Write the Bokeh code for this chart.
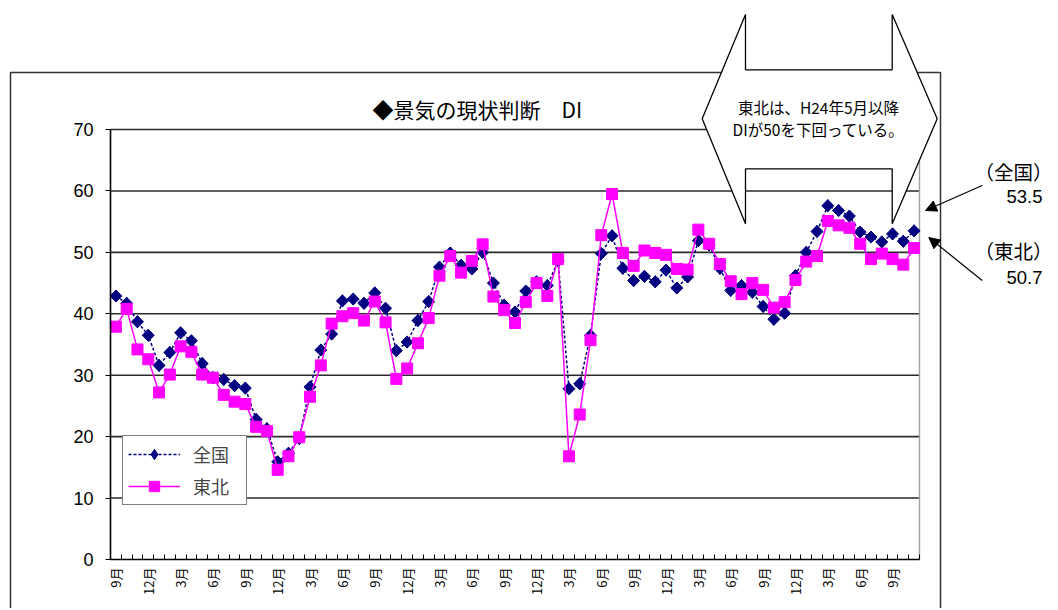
import math
from bokeh.plotting import figure
from bokeh.models import (FixedTicker, Range1d, Label, Arrow, NormalHead,
                          PolyAnnotation, Legend, LegendItem, LinearAxis)
from bokeh.embed import file_html
from bokeh.resources import INLINE

# ---- data (monthly, 2007/9 .. 2013/11) ----
month_idx = list(range(75))
tick_names = ["9月", "12月", "3月", "6月"]
tick_pos = list(range(0, 75, 3))
tick_labels = [tick_names[k % 4] for k in range(len(tick_pos))]

national = [42.9, 41.7, 38.7, 36.5, 31.6, 33.7, 36.9, 35.6, 31.9, 29.6,
            29.3, 28.3, 27.9, 22.8, 21.3, 15.9, 17.3, 19.7, 28.1, 34.1,
            36.7, 42.1, 42.4, 41.7, 43.4, 40.9, 34.0, 35.4, 38.9, 42.0,
            47.6, 49.9, 47.9, 47.3, 50.0, 45.0, 41.4, 40.3, 43.7, 45.2,
            44.6, 48.6, 27.8, 28.6, 36.5, 49.8, 52.7, 47.4, 45.4, 46.1,
            45.2, 47.1, 44.2, 46.0, 51.9, 51.2, 47.4, 43.8, 44.6, 43.5,
            41.2, 39.1, 40.1, 46.2, 50.0, 53.4, 57.6, 56.8, 55.9, 53.3,
            52.5, 51.7, 53.0, 51.8, 53.5]

tohoku = [37.9, 40.8, 34.2, 32.6, 27.2, 30.1, 34.7, 33.8, 30.1, 29.6,
          26.8, 25.7, 25.3, 21.6, 20.9, 14.6, 16.8, 19.9, 26.5, 31.6,
          38.4, 39.6, 40.1, 38.9, 42.0, 38.6, 29.4, 31.1, 35.2, 39.3,
          46.2, 49.4, 46.7, 48.6, 51.3, 42.8, 40.6, 38.5, 41.9, 45.0,
          42.9, 48.9, 16.8, 23.6, 35.7, 52.8, 59.5, 49.9, 47.8, 50.3,
          49.9, 49.6, 47.3, 47.2, 53.7, 51.4, 48.1, 45.3, 43.2, 45.0,
          43.9, 41.0, 41.9, 45.5, 48.5, 49.4, 55.1, 54.4, 54.0, 51.4,
          48.9, 49.8, 48.9, 48.0, 50.7]

y_ticks = [0, 10, 20, 30, 40, 50, 60, 70]

JP = "Noto Sans CJK JP"

# ---- layout (pixels on the canvas) ----
W, H = 1056, 608
PL, PR, PT, PB = 110, 919, 129, 559      # plot-area box
X0, X1 = -0.5, 74.5                      # category range
Y0, Y1 = 0, 70
kx = (PR - PL) / (X1 - X0)
ky = (PB - PT) / (Y1 - Y0)

def X(px):
    return X0 + (px - PL) / kx

def Y(py):
    return Y0 + (PB - py) / ky

p = figure(width=W, height=H, output_backend="svg", toolbar_location=None,
           x_range=Range1d(X(0), X(W)), y_range=Range1d(Y(H), Y(0)),
           x_axis_location=None, y_axis_location=None, min_border=0)
p.outline_line_color = None
p.background_fill_color = "white"
p.border_fill_color = "white"
p.grid.visible = False

# ---- axes drawn at the plot-area edges ----
xa = LinearAxis(fixed_location=Y0, bounds=(X0, X1))
xa.ticker = FixedTicker(ticks=tick_pos, minor_ticks=[i - 0.5 for i in range(76)])
xa.major_label_overrides = {pos: lbl for pos, lbl in zip(tick_pos, tick_labels)}
xa.major_label_orientation = math.pi / 2
xa.major_tick_in = 0
xa.major_tick_out = 0
xa.minor_tick_in = 5
xa.minor_tick_out = 0
xa.minor_tick_line_color = "black"
xa.axis_line_color = "black"
xa.axis_line_width = 1.6
xa.major_label_text_font = JP
xa.major_label_text_font_size = "13px"
xa.major_label_text_color = "black"
xa.major_label_standoff = 8
p.add_layout(xa, "below")

ya = LinearAxis(fixed_location=X0, bounds=(Y0, Y1))
ya.ticker = FixedTicker(ticks=y_ticks)
ya.major_tick_in = 0
ya.major_tick_out = 5
ya.minor_tick_line_color = None
ya.major_tick_line_color = "black"
ya.axis_line_color = "black"
ya.axis_line_width = 1.6
ya.major_label_text_font = "Liberation Sans"
ya.major_label_text_font_size = "18px"
ya.major_label_text_color = "black"
ya.major_label_standoff = 12
p.add_layout(ya, "left")

# horizontal grid lines and right edge of plot area
grid_y = y_ticks[1:]
p.segment(x0=[X0] * len(grid_y), y0=grid_y, x1=[X1] * len(grid_y), y1=grid_y,
          line_color="#2b2b2b", line_width=1.6)
p.segment(x0=[X1], y0=[Y0], x1=[X1], y1=[Y1], line_color="#a0a0a0", line_width=1.4)

# ---- series ----
l1 = p.line(month_idx, national, line_color="#000080", line_dash="3 2", line_width=1.5)
d1 = p.scatter(month_idx, national, marker="diamond", size=12,
               fill_color="#000080", line_color="#000080")
s1 = p.scatter(month_idx, national, marker="square", angle=math.pi / 4, size=8.5,
               fill_color="#000080", line_color="#000080")
l2 = p.line(month_idx, tohoku, line_color="#FF00FF", line_width=1.5)
s2 = p.scatter(month_idx, tohoku, marker="square", size=11,
               fill_color="#FF00FF", line_color="#FF00FF")

legend = Legend(items=[LegendItem(label="全国", renderers=[l1, d1]),
                       LegendItem(label="東北", renderers=[l2, s2])],
                location=(122, H - 505), orientation="vertical")
legend.border_line_color = "black"
legend.border_line_width = 1.2
legend.background_fill_color = "white"
legend.background_fill_alpha = 1
legend.label_text_font = JP
legend.label_text_font_size = "18px"
legend.glyph_width = 52
legend.glyph_height = 26
legend.label_height = 26
legend.label_width = 48
legend.label_standoff = 13
legend.spacing = 6
legend.padding = 5
legend.margin = 0
p.add_layout(legend)

# ---- chart-area frame and decorations ----
p.add_layout(PolyAnnotation(xs=[X(10), X(10), X(940), X(940)],
                            ys=[Y(H + 50), Y(72), Y(72), Y(H + 50)],
                            fill_color=None, fill_alpha=0,
                            line_color="#333333", line_alpha=1, line_width=1.5))

p.add_layout(Label(x=X(372), y=Y(108), text="◆景気の現状判断　DI",
                   text_align="left", text_baseline="middle",
                   text_font=JP, text_font_size="21px", text_color="black"))

shape_px = [(745, 14), (745, 69.3), (891.7, 69.3), (891.7, 14), (936.7, 118.3),
            (891.7, 223.3), (891.7, 168.3), (745, 168.3), (745, 223.3), (701.7, 118.3)]
p.add_layout(PolyAnnotation(xs=[X(a) for a, b in shape_px], ys=[Y(b) for a, b in shape_px],
                            fill_color="white", fill_alpha=1,
                            line_color="black", line_alpha=1, line_width=1.3))
p.add_layout(Label(x=X(818), y=Y(106), text="東北は、H24年5月以降",
                   text_align="center", text_baseline="middle",
                   text_font=JP, text_font_size="15.5px", text_color="black"))
p.add_layout(Label(x=X(818), y=Y(128), text="DIが50を下回っている。",
                   text_align="center", text_baseline="middle",
                   text_font=JP, text_font_size="15.5px", text_color="black"))

for txt, py in [("（全国）", 171), ("（東北）", 250)]:
    p.add_layout(Label(x=X(974), y=Y(py), text=txt, text_align="left",
                       text_baseline="middle", text_font=JP,
                       text_font_size="19.5px", text_color="black"))
for txt, py in [("53.5", 196), ("50.7", 277)]:
    p.add_layout(Label(x=X(1006), y=Y(py), text=txt, text_align="left",
                       text_baseline="middle", text_font="Liberation Sans",
                       text_font_size="18.5px", text_color="black"))

for (xs_, ys_), (xe, ye) in [((981.7, 185), (925, 210)), ((981.7, 280), (928.3, 237))]:
    p.add_layout(Arrow(x_start=X(xs_), y_start=Y(ys_), x_end=X(xe), y_end=Y(ye),
                       line_color="black", line_width=1.2,
                       end=NormalHead(size=11, fill_color="black", line_color="black")))

open("out.html", "w").write(file_html(p, INLINE))
